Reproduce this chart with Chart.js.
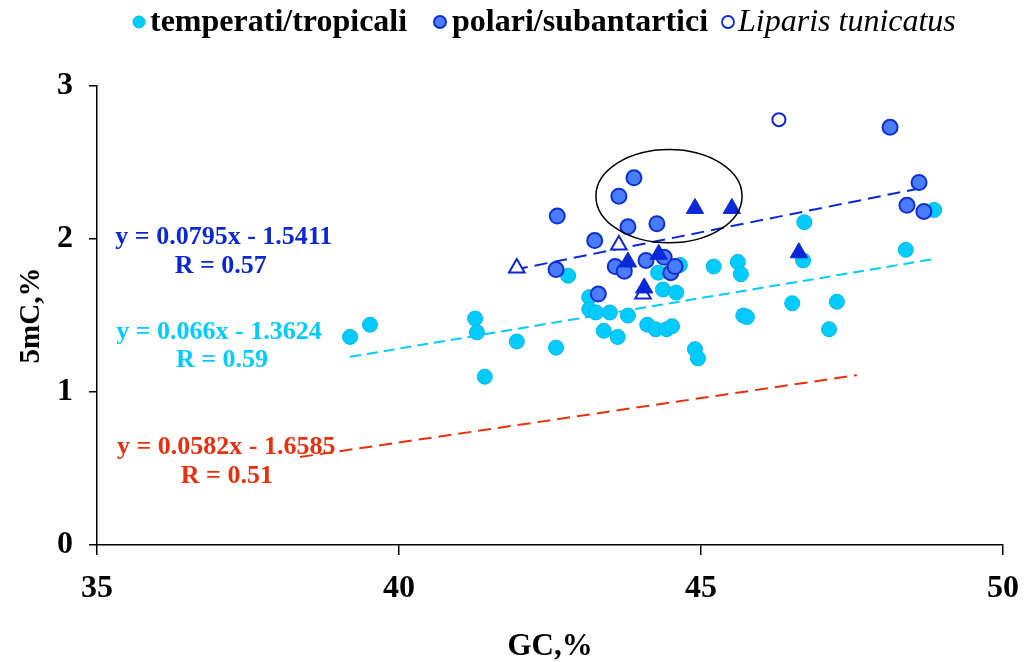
<!DOCTYPE html>
<html lang="it">
<head>
    <meta charset="UTF-8">
    <title>5mC vs GC</title>
    <style>
        body { margin: 0; background: #fff; }
        .chart-box { width: 1031px; height: 662px; }
    </style>
</head>
<body>
    <div class="chart-box"><canvas id="gcChart"></canvas></div>

    <script src="https://cdn.jsdelivr.net/npm/chart.js"></script>
    <script>
        // temperati/tropicali (cyan circles)
        const tempGC = [39.19, 39.52, 41.26, 41.29, 41.42, 41.95, 42.60, 42.80, 43.15, 43.15, 43.26, 43.49, 43.39, 43.62,
                        43.79, 44.11, 44.25, 44.43, 44.52, 44.29, 44.37, 44.59, 44.65, 44.90, 44.95, 45.21, 45.61, 45.66,
                        45.70, 45.76, 46.51, 46.69, 46.71, 47.12, 47.25, 48.39, 48.86];
        const tempMC = [1.36, 1.44, 1.48, 1.39, 1.10, 1.33, 1.29, 1.76, 1.62, 1.54, 1.52, 1.52, 1.40, 1.36,
                        1.50, 1.44, 1.41, 1.41, 1.43, 1.78, 1.67, 1.65, 1.83, 1.28, 1.22, 1.82, 1.85, 1.77,
                        1.50, 1.49, 1.58, 1.86, 2.11, 1.41, 1.59, 1.93, 2.19];

        // polari/subantartici (blue circles)
        const polarGC = [42.60, 42.62, 43.24, 43.30, 43.58, 43.64, 43.73, 43.79, 43.89, 44.09, 44.27, 44.39, 44.50, 44.57,
                         48.13, 48.41, 48.61, 48.69];
        const polarMC = [1.80, 2.15, 1.99, 1.64, 1.82, 2.28, 1.79, 2.08, 2.40, 1.86, 2.10, 1.88, 1.78, 1.82,
                         2.73, 2.22, 2.37, 2.18];

        // filled and open triangles
        const triGC = [43.79, 44.06, 44.30, 44.90, 45.51, 46.62];
        const triMC = [1.85, 1.68, 1.90, 2.20, 2.20, 1.91];
        const openTriGC = [41.95, 43.64, 44.04];
        const openTriMC = [1.81, 1.96, 1.64];

        // Liparis tunicatus
        const liparisGC = [46.29];
        const liparisMC = [2.78];

        // regression lines (end points)
        const blueLineGC = [41.92, 48.61];
        const blueLineMC = [1.80, 2.33];
        const cyanLineGC = [39.19, 48.87];
        const cyanLineMC = [1.23, 1.87];
        const redLineGC = [38.36, 47.58];
        const redLineMC = [0.575, 1.11];

        const xTicks = [35, 40, 45, 50];
        const yTicks = [0, 1, 2, 3];

        // equation labels: text, position in data units, colour
        const eqText = ['y = 0.0795x - 1.5411', 'R = 0.57', 'y = 0.066x - 1.3624', 'R = 0.59', 'y = 0.0582x - 1.6585', 'R = 0.51'];
        const eqGC = [37.10, 37.05, 37.02, 37.07, 37.14, 37.15];
        const eqMC = [2.01, 1.82, 1.39, 1.205, 0.64, 0.45];

        // circled group
        const ellipseGC = 44.47, ellipseMC = 2.28, ellipseRx = 1.21, ellipseRy = 0.305;

        const CYAN = '#00ccff', CYAN_EDGE = '#00b6ea';
        const BLUE_FILL = '#4a7cff', BLUE_EDGE = '#0f2fd2';
        const DARK_BLUE = '#0a28d8';
        const RED = '#e8300e';
        const eqColors = [DARK_BLUE, DARK_BLUE, CYAN, CYAN, RED, RED];
        const SERIF = "'Liberation Serif', 'Times New Roman', serif";

        function pts(xs, ys) {
            return xs.map((x, i) => ({ x: x, y: ys[i] }));
        }

        const extras = {
            id: 'extras',
            afterDatasetsDraw(chart) {
                const ctx = chart.ctx;
                const xs = chart.scales.x, ys = chart.scales.y;
                // ellipse
                const cx = xs.getPixelForValue(ellipseGC), cy = ys.getPixelForValue(ellipseMC);
                const rx = xs.getPixelForValue(ellipseGC + ellipseRx) - cx;
                const ry = cy - ys.getPixelForValue(ellipseMC + ellipseRy);
                ctx.save();
                ctx.beginPath();
                ctx.ellipse(cx, cy, rx, ry, 0, 0, Math.PI * 2);
                ctx.strokeStyle = '#000';
                ctx.lineWidth = 1.5;
                ctx.stroke();

                // equations
                ctx.font = 'bold 26px ' + SERIF;
                ctx.textAlign = 'center';
                ctx.textBaseline = 'middle';
                eqText.forEach((t, i) => {
                    ctx.fillStyle = eqColors[i];
                    ctx.fillText(t, xs.getPixelForValue(eqGC[i]), ys.getPixelForValue(eqMC[i]));
                });

                // legend
                ctx.textAlign = 'left';
                const ly = 22;
                function marker(x, fill, edge, w) {
                    ctx.beginPath();
                    ctx.arc(x, ly, 6, 0, Math.PI * 2);
                    ctx.fillStyle = fill;
                    ctx.fill();
                    ctx.lineWidth = w;
                    ctx.strokeStyle = edge;
                    ctx.stroke();
                }
                marker(139, CYAN, CYAN_EDGE, 1);
                marker(440, BLUE_FILL, BLUE_EDGE, 2);
                marker(728, '#fff', DARK_BLUE, 1.8);
                ctx.fillStyle = '#000';
                ctx.font = 'bold 32px ' + SERIF;
                ctx.fillText('temperati/tropicali', 150, ly + 1);
                ctx.fillText('polari/subantartici', 452, ly + 1);
                ctx.font = 'italic 32px ' + SERIF;
                ctx.fillText('Liparis tunicatus', 738, ly + 1);
                ctx.restore();
            }
        };

        const ctx = document.getElementById('gcChart').getContext('2d');
        const gcChart = new Chart(ctx, {
            type: 'scatter',
            data: {
                datasets: [{
                    label: 'Liparis tunicatus',
                    data: pts(liparisGC, liparisMC),
                    pointStyle: 'circle',
                    pointRadius: 6.5,
                    backgroundColor: '#fff',
                    borderColor: DARK_BLUE,
                    borderWidth: 2,
                }, {
                    label: 'triangoli',
                    data: pts(triGC, triMC),
                    pointStyle: 'triangle',
                    pointRadius: 10,
                    backgroundColor: DARK_BLUE,
                    borderColor: DARK_BLUE,
                    borderWidth: 1,
                }, {
                    label: 'triangoli vuoti',
                    data: pts(openTriGC, openTriMC),
                    pointStyle: 'triangle',
                    pointRadius: 9,
                    backgroundColor: '#fff',
                    borderColor: DARK_BLUE,
                    borderWidth: 2,
                }, {
                    label: 'polari/subantartici',
                    data: pts(polarGC, polarMC),
                    pointRadius: 7.5,
                    backgroundColor: BLUE_FILL,
                    borderColor: BLUE_EDGE,
                    borderWidth: 2,
                }, {
                    label: 'temperati/tropicali',
                    data: pts(tempGC, tempMC),
                    pointRadius: 7.5,
                    backgroundColor: CYAN,
                    borderColor: CYAN_EDGE,
                    borderWidth: 1,
                }, {
                    type: 'line',
                    label: 'trend polari',
                    data: pts(blueLineGC, blueLineMC),
                    borderColor: DARK_BLUE,
                    borderWidth: 2,
                    borderDash: [13, 7],
                    pointRadius: 0,
                    fill: false,
                }, {
                    type: 'line',
                    label: 'trend temperati',
                    data: pts(cyanLineGC, cyanLineMC),
                    borderColor: CYAN,
                    borderWidth: 2,
                    borderDash: [11, 6],
                    pointRadius: 0,
                    fill: false,
                }, {
                    type: 'line',
                    label: 'trend',
                    data: pts(redLineGC, redLineMC),
                    borderColor: RED,
                    borderWidth: 2,
                    borderDash: [13, 7],
                    pointRadius: 0,
                    fill: false,
                }]
            },
            options: {
                responsive: true,
                maintainAspectRatio: false,
                animation: false,
                layout: { padding: { top: 86, right: 28, left: 0, bottom: 0 } },
                plugins: {
                    legend: { display: false },
                    tooltip: { enabled: false }
                },
                scales: {
                    x: {
                        type: 'linear',
                        min: 35,
                        max: 50,
                        afterBuildTicks: (s) => { s.ticks = xTicks.map(v => ({ value: v })); },
                        afterFit: (s) => {
                            s.height = 117;
                            s.paddingLeft = 0;
                            s.paddingRight = 0;
                        },
                        grid: { drawOnChartArea: false, tickLength: 10, color: '#000', lineWidth: 1.5 },
                        border: { color: '#000', width: 1.5 },
                        ticks: {
                            padding: 15,
                            color: '#000',
                            font: { family: SERIF, size: 32, weight: 'bold' }
                        },
                        title: {
                            display: true,
                            text: 'GC,%',
                            color: '#000',
                            padding: { top: 0, bottom: -4 },
                            font: { family: SERIF, size: 31, weight: 'bold' }
                        }
                    },
                    y: {
                        type: 'linear',
                        min: 0,
                        max: 3,
                        afterBuildTicks: (s) => { s.ticks = yTicks.map(v => ({ value: v })); },
                        afterFit: (s) => {
                            s.width = 97;
                            s.paddingTop = 0;
                            s.paddingBottom = 0;
                        },
                        grid: { drawOnChartArea: false, tickLength: 8, color: '#000', lineWidth: 1.5 },
                        border: { color: '#000', width: 1.5 },
                        ticks: {
                            padding: 16,
                            color: '#000',
                            font: { family: SERIF, size: 32, weight: 'bold' }
                        },
                        title: {
                            display: true,
                            text: '5mC,%',
                            color: '#000',
                            padding: { top: 14, bottom: 0 },
                            font: { family: SERIF, size: 29, weight: 'bold' }
                        }
                    }
                }
            },
            plugins: [extras]
        });
    </script>
</body>
</html>
